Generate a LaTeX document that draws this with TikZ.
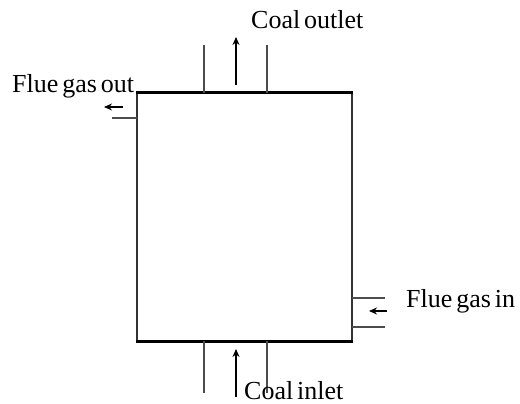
\documentclass[tikz,border=0pt]{standalone}
\usepackage{fontspec}
\setmainfont{Liberation Serif}[WordSpace=0.6]
\usetikzlibrary{arrows.meta}
\begin{document}
\begin{tikzpicture}[x=1pt,y=-1pt,
  pipe/.style={line width=2pt,draw=black!70},
  wall/.style={line width=2pt,draw=black!80},
  capline/.style={line width=3pt,draw=black},
  flow/.style={line width=1.8pt,draw=black,-{Stealth[length=8pt,width=7pt]}},
  lbl/.style={font=\fontsize{26}{30}\selectfont,inner sep=0pt}]
\useasboundingbox (0,0) rectangle (520,404);
% box corners
\coordinate (tl) at (137,93);
\coordinate (tr) at (352,93);
\coordinate (bl) at (137,341);
\coordinate (br) at (352,341);
\draw[wall] (tl) -- (bl);
\draw[wall] (tr) -- (br);
\draw[capline] (136,93) coordinate (tl2) -- (353,93) coordinate (tr2);
\draw[capline] (136,341) coordinate (bl2) -- (353,341) coordinate (br2);
% top pipes
\coordinate (t1a) at (204,45); \coordinate (t1b) at (204,93);
\coordinate (t2a) at (267,45); \coordinate (t2b) at (267,93);
\draw[pipe] (t1a) -- (t1b);
\draw[pipe] (t2a) -- (t2b);
\coordinate (ta0) at (236,85); \coordinate (ta1) at (236,37);
\draw[flow] (ta0) -- (ta1);
% bottom pipes
\coordinate (b1a) at (204,341); \coordinate (b1b) at (204,393);
\coordinate (b2a) at (267,341); \coordinate (b2b) at (267,393);
\draw[pipe] (b1a) -- (b1b);
\draw[pipe] (b2a) -- (b2b);
\coordinate (ba0) at (236,397); \coordinate (ba1) at (236,349);
\draw[flow] (ba0) -- (ba1);
% flue gas out
\coordinate (fo0) at (112,118); \coordinate (fo1) at (137,118);
\draw[pipe] (fo0) -- (fo1);
\coordinate (foa0) at (123,107); \coordinate (foa1) at (104,107);
\draw[flow] (foa0) -- (foa1);
% flue gas in
\coordinate (fi1a) at (352,298); \coordinate (fi1b) at (385,298);
\coordinate (fi2a) at (352,327); \coordinate (fi2b) at (385,327);
\draw[pipe] (fi1a) -- (fi1b);
\draw[pipe] (fi2a) -- (fi2b);
\coordinate (fia0) at (387,311); \coordinate (fia1) at (369,311);
\draw[flow] (fia0) -- (fia1);
% labels
\node[lbl,anchor=base west] (lco) at (251,29) {Coal outlet};
\node[lbl,anchor=base west] (lfo) at (12,93) {Flue gas out};
\node[lbl,anchor=base west] (lfi) at (406,307) {Flue gas in};
\node[lbl,anchor=base west] (lci) at (244,399) {Coal inlet};
\end{tikzpicture}
\end{document}
